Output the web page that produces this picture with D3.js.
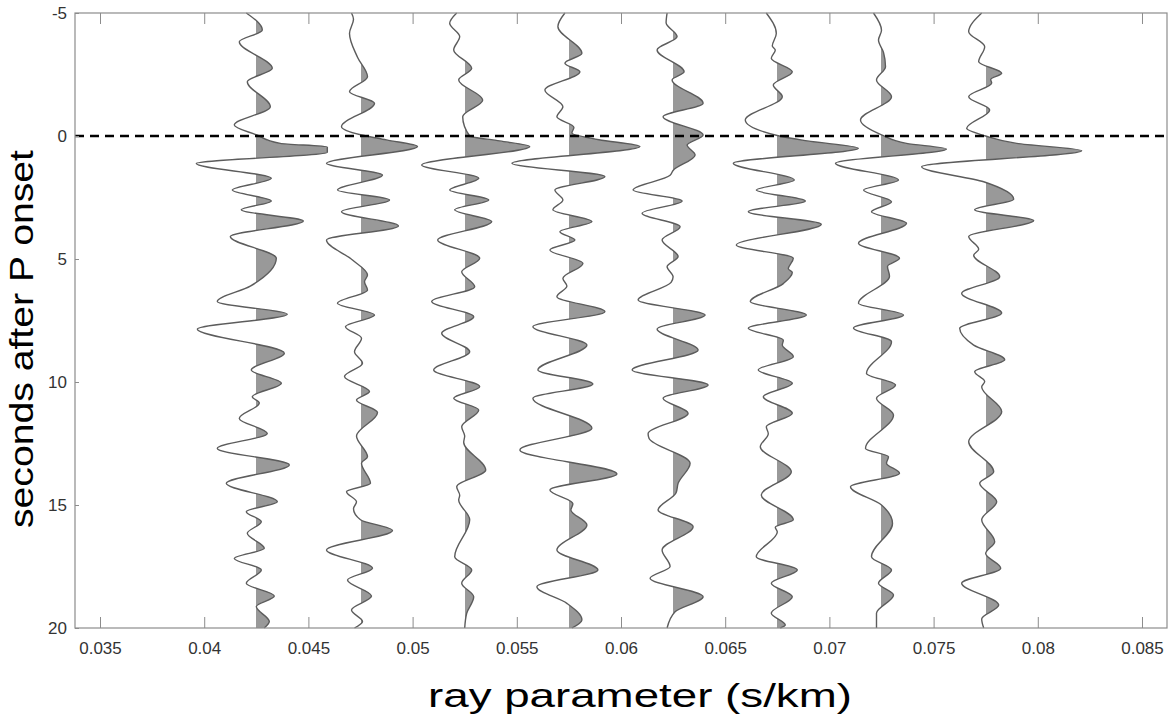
<!DOCTYPE html>
<html>
<head>
<meta charset="utf-8">
<script src="https://cdn.jsdelivr.net/npm/d3@7"></script>
<style>
  body { margin: 0; background: #fff; }
  svg { font-family: "Liberation Sans", Arial, sans-serif; }
</style>
</head>
<body>
<div id="chart"></div>
<script>
// ray parameters of the stacked receiver functions (s/km)
var rayParams = [0.0425, 0.0475, 0.0525, 0.0575, 0.0625, 0.0675, 0.0725, 0.0775];

// picked extrema of each trace: [seconds after P, normalized amplitude]
var rf1 = [[-5,-0.10],[-4.31,0.06],[-3.83,-0.17],[-2.75,0.16],[-2.21,-0.09],[-1.19,0.14],[-0.45,-0.22],[-0.05,0],[0.3,0.24],[0.45,0.71],[0.66,0.71],[1.12,-0.60],
  [1.72,0.15],[2.2,-0.24],[2.64,0.15],[3.0,-0.15],[3.46,0.47],[4.09,-0.26],[4.97,0.20],[6.1,-0.06],[6.73,-0.39],[7.25,0.31],[7.85,-0.59],[8.83,0.28],[9.51,-0.05],
  [10.05,0.25],[10.6,-0.04],[10.85,0.03],[11.48,-0.17],[12.09,0.11],[12.7,-0.39],[13.37,0.33],[14.12,-0.30],[14.87,0.21],[15.27,-0.10],[15.68,0.05],[16.15,-0.09],
  [16.76,0.08],[17.17,-0.22],[17.64,0.05],[18.18,-0.10],[18.7,0.18],[19.13,0.0],[19.74,0.13],[20,0.08]];
var rf2 = [[-5,-0.09],[-4.75,-0.07],[-4.17,-0.11],[-3.2,-0.03],[-2.41,0.07],[-1.8,-0.11],[-1.33,0.14],[-0.38,-0.19],[-0.05,0],[0.16,0.26],[0.43,0.57],[1.11,-0.34],
  [1.59,0.22],[2.2,-0.23],[2.6,0.29],[3.08,-0.19],[3.66,0.38],[4.23,-0.34],[5.04,-0.08],[5.65,0.07],[5.92,0.04],[6.26,0.07],[6.8,-0.23],[7.28,0.14],[7.75,-0.15],
  [8.22,0.01],[8.77,-0.06],[9.24,0.02],[9.78,-0.16],[10.39,0.09],[10.73,-0.04],[11.24,0.17],[12.2,-0.04],[13.04,0.07],[13.3,0.01],[14.12,0.10],[14.46,-0.14],
  [14.87,-0.04],[15.15,-0.07],[15.6,0.0],[16.04,0.32],[16.83,-0.34],[17.57,0.12],[18.05,-0.13],[18.7,0.11],[19.27,-0.09],[19.74,0.02],[20,-0.06]];
var rf3 = [[-5,-0.08],[-4.58,-0.15],[-4.04,-0.05],[-3.5,-0.11],[-2.75,0.07],[-2.28,-0.06],[-1.46,0.18],[-0.78,-0.02],[0.0,0.05],[0.2,0.35],[0.43,0.65],[1.18,-0.43],
  [1.72,0.14],[2.2,-0.15],[2.6,0.24],[3.0,-0.10],[3.48,0.27],[4.23,-0.27],[4.97,0.15],[5.52,-0.03],[6.13,0.10],[6.73,-0.33],[7.35,0.09],[8.02,-0.23],[8.77,0.05],
  [9.51,-0.31],[10.19,0.15],[10.66,-0.11],[11.14,0.14],[11.82,-0.03],[12.2,0.0],[12.45,-0.01],[13.58,0.21],[14.26,-0.08],[14.6,-0.05],[14.8,-0.06],[15.6,0.05],
  [17.1,-0.10],[17.64,0.07],[18.18,-0.03],[18.73,0.09],[19.4,0.02],[20,0.0]];
var rf4 = [[-5,-0.04],[-4.45,-0.11],[-3.36,0.13],[-2.96,-0.04],[-2.61,0.11],[-1.87,-0.24],[-1.19,-0.06],[-0.78,-0.12],[-0.35,0.05],[-0.12,0.03],[0.15,0.3],[0.43,0.71],
  [1.11,-0.57],[1.65,0.36],[2.2,-0.14],[2.6,-0.06],[3.0,-0.16],[3.48,0.23],[3.89,-0.09],[4.23,0.06],[4.63,-0.19],[5.18,0.14],[5.79,-0.06],[6.1,-0.02],[6.53,-0.12],
  [7.14,0.36],[7.75,-0.36],[8.5,0.18],[9.51,-0.31],[10.08,0.24],[10.66,-0.36],[11.88,0.23],[12.76,-0.49],[13.74,0.48],[14.39,-0.19],[14.95,0.04],[15.2,0.02],
  [15.81,0.18],[16.83,-0.12],[17.64,0.29],[18.32,-0.32],[19.0,-0.02],[19.67,0.13],[20,0.03]];
var rf5 = [[-5,-0.06],[-4.6,-0.07],[-4.04,0.04],[-3.5,-0.16],[-2.61,0.11],[-2.28,-0.01],[-1.33,0.30],[-0.78,-0.10],[-0.04,0.30],[0.37,0.14],[0.77,0.22],[1.4,0.0],
  [1.6,-0.03],[2.2,-0.40],[2.64,0.09],[3.14,-0.31],[3.69,0.07],[4.23,-0.11],[4.9,0.05],[5.31,-0.06],[5.72,0.0],[5.95,-0.02],[6.67,-0.35],[7.28,0.32],[7.85,-0.16],
  [8.7,0.25],[9.51,-0.41],[10.12,0.35],[10.66,-0.10],[11.27,0.15],[12.1,-0.25],[12.3,-0.24],[13.3,0.17],[14.12,0.05],[14.5,0.03],[15.2,-0.15],[15.88,0.20],
  [16.83,-0.11],[17.5,-0.03],[17.98,-0.23],[18.73,0.30],[19.34,0.02],[20,-0.06]];
var rf6 = [[-5,-0.11],[-4.17,-0.01],[-3.66,-0.05],[-3.5,-0.02],[-3.16,-0.06],[-2.61,0.15],[-2.07,-0.04],[-1.6,0.05],[-0.65,-0.32],[0.0,0.02],[0.2,0.3],[0.5,0.81],
  [1.11,-0.44],[1.79,0.17],[2.2,-0.21],[2.64,0.28],[3.08,-0.29],[3.59,0.44],[4.43,-0.41],[4.97,0.16],[5.4,0.11],[5.55,0.15],[6.0,0.06],[6.73,-0.27],[7.28,0.29],
  [7.82,-0.29],[8.3,0.06],[8.5,0.05],[8.97,0.16],[9.51,-0.19],[10.05,0.15],[10.6,-0.14],[11.27,0.15],[11.82,-0.11],[12.1,-0.09],[12.63,-0.17],[13.65,0.14],
  [14.59,-0.16],[15.6,0.16],[15.9,-0.02],[16.1,0.0],[17.1,-0.21],[17.64,0.20],[18.18,-0.06],[18.73,0.15],[19.4,-0.06],[19.88,0.08],[20,0.03]];
var rf7 = [[-5,-0.08],[-4.3,0.0],[-3.9,-0.03],[-3.4,0.02],[-2.82,0.04],[-2.28,-0.05],[-1.6,0.10],[-0.65,-0.21],[-0.05,0.0],[0.3,0.25],[0.53,0.65],[1.11,-0.46],
  [1.79,0.17],[2.2,-0.18],[2.67,0.10],[3.08,-0.10],[3.55,0.25],[4.36,-0.23],[4.97,0.18],[5.3,0.06],[5.7,0.08],[6.8,-0.23],[7.28,0.22],[7.8,-0.28],[8.36,0.10],
  [9.65,-0.15],[10.12,0.14],[10.66,-0.05],[11.34,0.12],[12.7,-0.16],[13.04,0.07],[13.3,0.05],[13.71,0.18],[14.26,-0.31],[15.0,0.0],[15.75,0.11],[17.1,-0.10],
  [17.64,0.10],[18.18,-0.03],[18.66,0.12],[19.4,-0.05],[20,-0.05]];
var rf8 = [[-5,-0.04],[-4.24,-0.17],[-3.63,-0.01],[-3.02,-0.07],[-2.55,0.16],[-2.3,0.05],[-2.15,0.06],[-1.6,-0.17],[-1.06,0.04],[-0.31,-0.19],[0.0,0.0],[0.3,0.31],
  [0.6,0.96],[1.25,-0.64],[1.86,-0.02],[2.57,0.28],[3.0,-0.11],[3.44,0.48],[4.09,-0.17],[4.6,-0.07],[4.85,-0.12],[5.72,0.14],[6.4,-0.24],[7.2,0.16],[7.82,-0.26],
  [8.5,-0.12],[9.1,0.19],[9.58,-0.11],[9.98,-0.01],[10.2,-0.04],[11.2,0.16],[12.43,-0.17],[13.65,0.08],[14.12,-0.06],[14.87,0.11],[15.6,-0.04],[16.49,0.09],
  [16.97,0.0],[17.57,0.15],[18.18,-0.24],[19.07,0.13],[19.63,-0.04],[20,-0.02]];
var traces = [rf1, rf2, rf3, rf4, rf5, rf6, rf7, rf8];

var xTicks = [0.035, 0.04, 0.045, 0.05, 0.055, 0.06, 0.065, 0.07, 0.075, 0.08, 0.085];
var xTickLabels = ["0.035", "0.04", "0.045", "0.05", "0.055", "0.06", "0.065", "0.07", "0.075", "0.08", "0.085"];
var yTicks = [-5, 0, 5, 10, 15, 20];
var yTickLabels = ["-5", "0", "5", "10", "15", "20"];

var margin = { top: 13, right: 5, bottom: 94, left: 75 },
    width = 1172 - margin.left - margin.right,
    height = 722 - margin.top - margin.bottom,
    gain = 0.0048; // s/km per unit amplitude

var x = d3.scaleLinear()
    .domain([0.0338, 0.0862])
    .range([0, width]);

var y = d3.scaleLinear()
    .domain([-5, 20])
    .range([0, height]);

var svg = d3.select("#chart")
  .append("svg")
    .attr("width", 1172)
    .attr("height", 722)
  .append("g")
    .attr("transform", "translate(" + margin.left + "," + margin.top + ")");

var defs = svg.append("defs");

var wiggle = function(p) {
  return d3.line()
    .curve(d3.curveMonotoneY)
    .y(function(d) { return y(d[0]); })
    .x(function(d) { return x(p + d[1] * gain); });
};

// baseline snapped to a whole pixel so the clipped fill leaves no sliver
var fillArea = function(p) {
  return d3.area()
    .curve(d3.curveMonotoneY)
    .y(function(d) { return y(d[0]); })
    .x0(Math.round(x(p)))
    .x1(function(d) { return x(p + d[1] * gain); });
};

// positive lobes filled grey, clipped to the right of each baseline
traces.forEach(function(tr, i) {
  var p = rayParams[i],
      bx = Math.round(x(p));
  defs.append("clipPath")
      .attr("id", "pos" + i)
    .append("rect")
      .attr("x", bx)
      .attr("y", 0)
      .attr("width", width - bx)
      .attr("height", height);

  svg.append("path")
      .datum(tr)
      .attr("clip-path", "url(#pos" + i + ")")
      .attr("fill", "#999")
      .attr("stroke", "none")
      .attr("d", fillArea(p));
});

traces.forEach(function(tr, i) {
  svg.append("path")
      .datum(tr)
      .attr("fill", "none")
      .attr("stroke", "#5c5c5c")
      .attr("stroke-width", 1.4)
      .attr("d", wiggle(rayParams[i]));
});

// P onset
svg.append("line")
    .attr("x1", 0)
    .attr("x2", width)
    .attr("y1", y(0))
    .attr("y2", y(0))
    .attr("stroke", "#000")
    .attr("stroke-width", 2.6)
    .attr("stroke-dasharray", "9,6");

// axes box
svg.append("rect")
    .attr("width", width)
    .attr("height", height)
    .attr("fill", "none")
    .attr("stroke", "#8c8c8c")
    .attr("stroke-width", 1.2);

var xAxis = svg.append("g")
    .attr("transform", "translate(0," + height + ")")
    .call(d3.axisBottom(x)
      .tickValues(xTicks)
      .tickFormat(function(d, i) { return xTickLabels[i]; })
      .tickSizeInner(-11)
      .tickSizeOuter(0)
      .tickPadding(14));

var xAxisTop = svg.append("g")
    .call(d3.axisTop(x)
      .tickValues(xTicks)
      .tickFormat("")
      .tickSizeInner(-11)
      .tickSizeOuter(0));

var yAxis = svg.append("g")
    .call(d3.axisLeft(y)
      .tickValues(yTicks)
      .tickFormat(function(d, i) { return yTickLabels[i]; })
      .tickSizeInner(-4)
      .tickSizeOuter(0)
      .tickPadding(8));

[xAxis, xAxisTop, yAxis].forEach(function(g) {
  g.select(".domain").remove();
  g.selectAll(".tick line").attr("stroke", "#8c8c8c");
  g.selectAll("text")
      .attr("fill", "#333")
      .style("font-size", "17px");
});

// axis titles
svg.append("text")
    .attr("x", 640 - margin.left)
    .attr("y", 707 - margin.top)
    .attr("text-anchor", "middle")
    .attr("textLength", 424)
    .attr("lengthAdjust", "spacingAndGlyphs")
    .style("font-size", "33px")
    .text("ray parameter (s/km)");

svg.append("text")
    .attr("transform", "translate(" + (33 - margin.left) + "," + (339 - margin.top) + ") rotate(-90)")
    .attr("text-anchor", "middle")
    .attr("textLength", 378)
    .attr("lengthAdjust", "spacingAndGlyphs")
    .style("font-size", "33px")
    .text("seconds after P onset");
</script>
</body>
</html>
